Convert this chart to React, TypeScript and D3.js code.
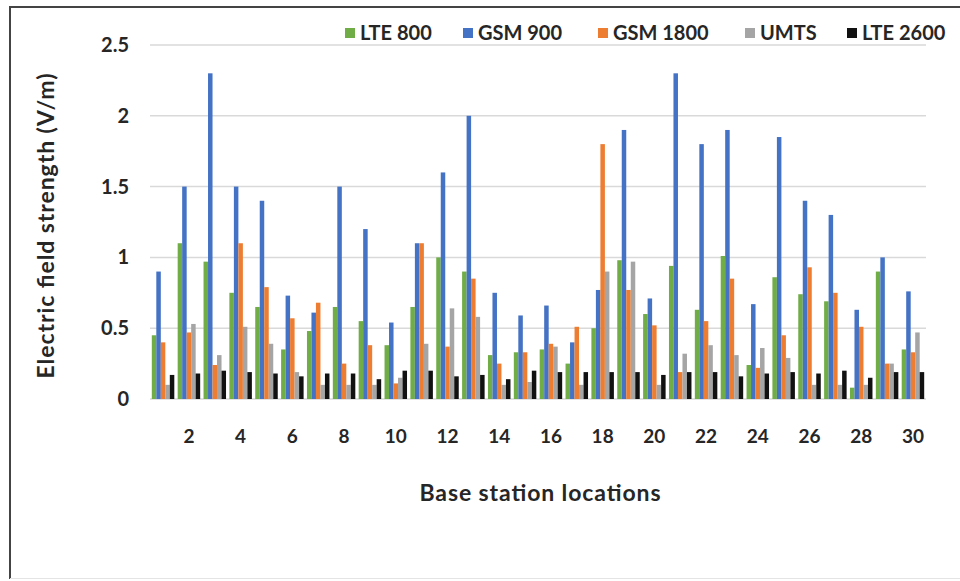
import React, { useEffect } from 'react';
import * as d3 from 'd3';

// values, location 1..30
const locations = d3.range(1, 31);
const lte800 = [0.45, 1.1, 0.97, 0.75, 0.65, 0.35, 0.48, 0.65, 0.55, 0.38, 0.65, 1.0, 0.9, 0.31, 0.33, 0.35, 0.25, 0.5, 0.98, 0.6, 0.94, 0.63, 1.01, 0.24, 0.86, 0.74, 0.69, 0.08, 0.9, 0.35];
const gsm900 = [0.9, 1.5, 2.3, 1.5, 1.4, 0.73, 0.61, 1.5, 1.2, 0.54, 1.1, 1.6, 2.0, 0.75, 0.59, 0.66, 0.4, 0.77, 1.9, 0.71, 2.3, 1.8, 1.9, 0.67, 1.85, 1.4, 1.3, 0.63, 1.0, 0.76];
const gsm1800 = [0.4, 0.47, 0.24, 1.1, 0.79, 0.57, 0.68, 0.25, 0.38, 0.11, 1.1, 0.37, 0.85, 0.25, 0.33, 0.39, 0.51, 1.8, 0.77, 0.52, 0.19, 0.55, 0.85, 0.22, 0.45, 0.93, 0.75, 0.51, 0.25, 0.33];
const umts = [0.1, 0.53, 0.31, 0.51, 0.39, 0.19, 0.1, 0.1, 0.1, 0.15, 0.39, 0.64, 0.58, 0.1, 0.12, 0.37, 0.1, 0.9, 0.97, 0.1, 0.32, 0.38, 0.31, 0.36, 0.29, 0.1, 0.1, 0.1, 0.25, 0.47];
const lte2600 = [0.17, 0.18, 0.2, 0.19, 0.18, 0.16, 0.18, 0.18, 0.14, 0.2, 0.2, 0.16, 0.17, 0.14, 0.2, 0.19, 0.19, 0.19, 0.19, 0.17, 0.19, 0.19, 0.16, 0.18, 0.19, 0.18, 0.2, 0.15, 0.19, 0.19];
const yTicks = [0, 0.5, 1, 1.5, 2, 2.5];

const series = [
  { name: 'LTE 800', color: '#70ad47', values: lte800 },
  { name: 'GSM 900', color: '#4472c4', values: gsm900 },
  { name: 'GSM 1800', color: '#ed7d31', values: gsm1800 },
  { name: 'UMTS', color: '#a5a5a5', values: umts },
  { name: 'LTE 2600', color: '#111111', values: lte2600 },
];
const legendX = [345, 463, 598, 745, 847];

const W = 960;
const H = 581;
const FONT = 'Lato, "Open Sans", sans-serif';
const INK = '#262626';

export default function App() {
  useEffect(() => {
    document.body.style.margin = '0';
  }, []);

  const x = d3.scaleBand<number>().domain(locations).range([150, 926]).paddingInner(0.13).paddingOuter(0.07);
  const xi = d3.scaleBand<number>().domain(d3.range(series.length)).range([0, x.bandwidth()]);
  const y = d3.scaleLinear().domain([0, 2.5]).range([399, 45]);

  return (
    <svg width={W} height={H} style={{ display: 'block', background: '#fff' }} fontFamily={FONT}>
      {/* frame: dark top/left, faint bottom, right edge cropped off */}
      <line x1={10} x2={W} y1={7} y2={7} stroke="#444" strokeWidth={2} />
      <line x1={10} x2={10} y1={6} y2={579} stroke="#444" strokeWidth={2} />
      <line x1={10} x2={W} y1={578.5} y2={578.5} stroke="#e4e4e4" strokeWidth={1} />

      {yTicks.map(t => (
        <g key={t}>
          <line x1={150} x2={926} y1={y(t)} y2={y(t)} stroke="#d9d9d9" strokeWidth={1.5} />
          <text x={129} y={y(t) + 7} textAnchor="end" fontSize={20} fontWeight={700} fill={INK}>
            {t}
          </text>
        </g>
      ))}

      {series.map((s, si) => (
        <g key={s.name} fill={s.color}>
          {s.values.map((v, i) => (
            <rect
              key={i}
              x={(x(locations[i]) ?? 0) + (xi(si) ?? 0)}
              y={y(v)}
              width={xi.bandwidth()}
              height={y(0) - y(v)}
            />
          ))}
        </g>
      ))}

      {locations.filter(l => l % 2 === 0).map(l => (
        <text key={l} x={(x(l) ?? 0) + x.bandwidth() / 2} y={443} textAnchor="middle" fontSize={19} fontWeight={700} fill={INK}>
          {l}
        </text>
      ))}

      <text x={540} y={501} textAnchor="middle" fontSize={23} fontWeight={700} fill={INK} textLength={241} lengthAdjust="spacing">
        Base station  locations
      </text>
      <text
        transform={`translate(54,226) rotate(-90)`}
        textAnchor="middle"
        fontSize={23}
        fontWeight={700}
        fill={INK}
        textLength={305}
        lengthAdjust="spacing"
      >
        Electric field strength (V/m)
      </text>

      {series.map((s, si) => (
        <g key={s.name} transform={`translate(${legendX[si]},33)`}>
          <rect x={0} y={-5} width={10} height={10} fill={s.color} />
          <text x={15} y={7} fontSize={20} fontWeight={700} fill={INK}>
            {s.name}
          </text>
        </g>
      ))}
    </svg>
  );
}
